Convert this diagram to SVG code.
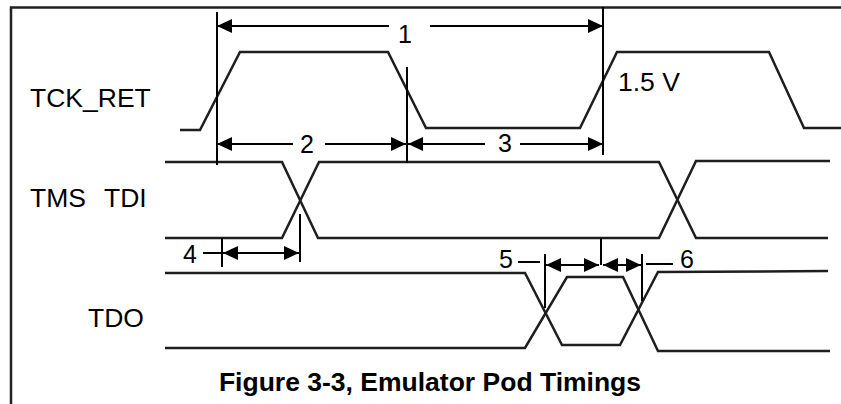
<svg xmlns="http://www.w3.org/2000/svg" width="841" height="404" viewBox="0 0 841 404">
<style>
.sig{fill:none;stroke:#1e1e1e;stroke-width:2.5;stroke-linejoin:miter}
.dim{fill:none;stroke:#000;stroke-width:2}
.arr{marker-start:url(#ah);marker-end:url(#ah)}
.lbl{font-family:"Liberation Sans",Arial,sans-serif;font-size:26.5px;fill:#000}
.num{font-family:"Liberation Sans",Arial,sans-serif;font-size:25px;fill:#000;text-anchor:middle}
.ttl{font-family:"Liberation Sans",Arial,sans-serif;font-size:26.5px;font-weight:bold;fill:#000;text-anchor:middle}
</style>
<defs>
<marker id="ah" markerUnits="userSpaceOnUse" markerWidth="15" markerHeight="14" refX="15" refY="7" orient="auto-start-reverse" viewBox="0 0 15 14">
<path d="M0,0 L15,7 L0,14 z" fill="#000"/>
</marker>
</defs>
<rect width="841" height="404" fill="#fff"/>
<g id="frame">
<path d="M11,404 L11,7.5 L841,7.5" fill="none" stroke="#222" stroke-width="2.5"/>
</g>
<g id="tck_ret">
<path class="sig" d="M180,130 L200,130 L240,52 L388,52 L426,128 L580,128 L617,52 L769,52 L804,128 L841,128"/>
<text class="lbl" x="30" y="107">TCK_RET</text>
<text class="lbl" x="618" y="91">1.5 V</text>
</g>
<g id="tms_tdi">
<path class="sig" d="M165,162 L282,162 L318,238 L659,238 L696,161 L830,161"/>
<path class="sig" d="M165,238 L282,238 L319,162 L659,162 L696,238 L828,238"/>
<text class="lbl" x="30" y="207">TMS</text>
<text class="lbl" x="104" y="207">TDI</text>
</g>
<g id="tdo">
<path class="sig" d="M165,273 L525,273 L562,345 L620,345 L658,272 L828,271"/>
<path class="sig" d="M165,348 L525,348 L567,277 L623,277 L658,351 L830,351"/>
<text class="lbl" x="88" y="327">TDO</text>
</g>
<g id="connectors">
<path class="dim" d="M217,12 L217,165"/>
<path class="dim" d="M603,7 L603,155"/>
<path class="dim" d="M407,67 L407,163"/>
<path class="dim" d="M300,214 L300,262"/>
<path class="dim" d="M222,238 L222,267"/>
<path class="dim" d="M545,254 L545,308"/>
<path class="dim" d="M601,238 L601,265"/>
<path class="dim" d="M642,254 L642,301"/>
<path class="dim" d="M217,26 L389,26" marker-start="url(#ah)"/>
<path class="dim" d="M430,26 L603,26" marker-end="url(#ah)"/>
<path class="dim" d="M217,144 L293,144" marker-start="url(#ah)"/>
<path class="dim" d="M325,144 L406,144" marker-end="url(#ah)"/>
<path class="dim" d="M408,144 L485,144" marker-start="url(#ah)"/>
<path class="dim" d="M520,144 L603,144" marker-end="url(#ah)"/>
<path class="dim" d="M203,253 L222,253"/>
<path class="dim arr" d="M223,253 L299,253"/>
<path class="dim" d="M518,262 L540,262"/>
<path class="dim arr" d="M546,265 L599,265"/>
<path class="dim arr" d="M603,265 L641,265"/>
<path class="dim" d="M646,264 L673,264"/>
<text class="num" x="405" y="43">1</text>
<text class="num" x="307" y="153">2</text>
<text class="num" x="505" y="152">3</text>
<text class="num" x="190" y="263">4</text>
<text class="num" x="506" y="268">5</text>
<text class="num" x="687" y="268">6</text>
</g>
<g id="title">
<text class="ttl" x="430" y="391">Figure 3-3, Emulator Pod Timings</text>
</g>
</svg>
